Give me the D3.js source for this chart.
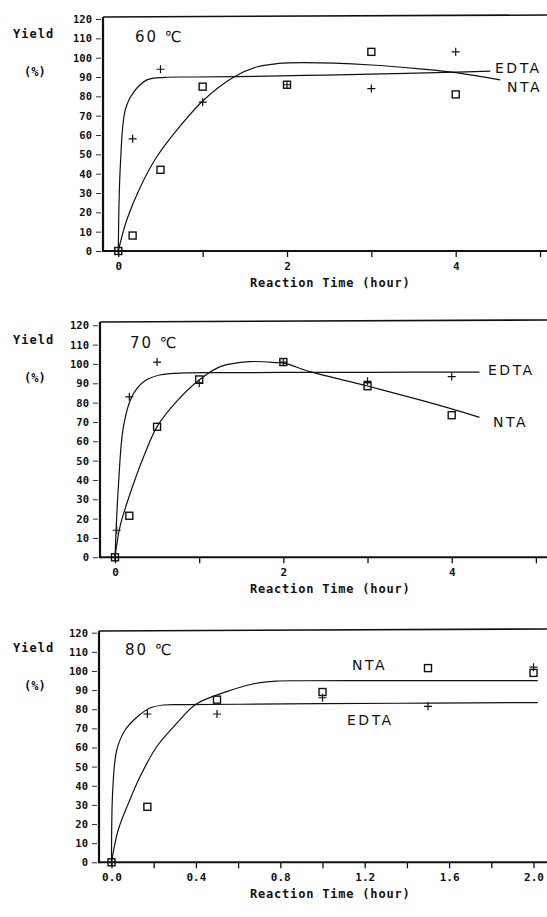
<!DOCTYPE html>
<html>
<head>
<meta charset="utf-8">
<script src="https://cdn.jsdelivr.net/npm/d3@7"></script>
<style>
  body { margin: 0; background: #fff; }
  svg { display: block; }
  .mono { font-family: "DejaVu Sans Mono", monospace; font-weight: bold; fill: #111; }
  .plot { font-family: "DejaVu Sans", sans-serif; fill: #111; }
</style>
</head>
<body>
<svg id="canvas" width="547" height="917"></svg>
<script>
// y axis ticks (same for every panel)
var yTickValues = [0, 10, 20, 30, 40, 50, 60, 70, 80, 90, 100, 110, 120];

// 60 C
var hours60 = [0, 0.17, 0.5, 1, 2, 3, 4];
var edta60 = [0, 58, 94, 77, 86, 84, 103];
var nta60 = [0, 8, 42, 85, 86, 103, 81];
var edta60Curve = [[0,0],[0.024,44],[0.083,73],[0.18,82],[0.34,88.5],[0.55,89.8],[0.9,90],[1.4,90.2],[2.2,90.8],[3,91.5],[4,92.5],[4.41,93]];
var nta60Curve = [[0,0],[0.1,16],[0.26,33],[0.46,49],[0.74,65],[1.01,78],[1.37,90],[1.65,95.3],[1.9,97],[2.2,97.4],[3,96.2],[3.58,94.2],[4,92.3],[4.53,88.5]];

// 70 C
var hours70Edta = [0, 0.02, 0.17, 0.5, 1, 2, 3, 4];
var edta70 = [0, 14, 83, 101, 90, 101, 91, 93.5];
var hours70Nta = [0, 0.17, 0.5, 1, 2, 3, 4];
var nta70 = [0, 21.5, 67.5, 92, 101, 88.5, 73.5];
var edta70Curve = [[0,0],[0.04,36.5],[0.1,67.5],[0.2,83],[0.34,90.8],[0.53,94.3],[0.85,95.4],[1.3,95.5],[2,95.6],[3,95.7],[4.33,95.8]];
var nta70Curve = [[0,0],[0.06,16],[0.18,33],[0.34,52],[0.5,67.6],[0.73,80.5],[1,91.7],[1.25,98.6],[1.6,101.2],[1.92,100.7],[2.02,100.3],[2.32,96],[3,88.6],[3.62,81.4],[3.98,77],[4.33,72.4]];

// 80 C
var hours80 = [0, 0.17, 0.5, 1, 1.5, 2];
var edta80 = [0, 77.5, 77.5, 86, 81.5, 102];
var nta80 = [0, 29, 85, 89, 101.5, 99];
var edta80Curve = [[0,0],[0.006,38],[0.025,58.7],[0.064,69],[0.12,75.8],[0.18,80.5],[0.245,82.2],[0.35,82.4],[0.6,82.6],[1,82.9],[1.5,83.2],[2.02,83.5]];
var nta80Curve = [[0,0],[0.032,17],[0.08,30.8],[0.135,44.7],[0.214,60.4],[0.31,72.7],[0.4,82.6],[0.546,89.2],[0.67,93.2],[0.78,94.7],[0.9,94.9],[1.2,95],[1.6,95],[2.02,95]];

// x ticks
var xTicksHour = [0, 1, 2, 3, 4, 5];
var xLabelsHour = ["0", "", "2", "", "4", ""];
var xTicksShort = [0, 0.2, 0.4, 0.6, 0.8, 1.0, 1.2, 1.4, 1.6, 1.8, 2.0];
var xLabelsShort = ["0.0", "", "0.4", "", "0.8", "", "1.2", "", "1.6", "", "2.0"];

var panels = [
	{ temp: "60 \u2103", axisX: 103, x0: 118.3, x1: 455.7, t1: 4, y0: 251, y120: 19, top: 17,
	  xTicks: xTicksHour, xLabels: xLabelsHour,
	  edtaT: hours60, edta: edta60, ntaT: hours60, nta: nta60, edtaCurve: edta60Curve, ntaCurve: nta60Curve,
	  tempPos: [135, 42], edtaPos: [495, 73], ntaPos: [507, 92] },
	{ temp: "70 \u2103", axisX: 100, x0: 115, x1: 451.7, t1: 4, y0: 557.3, y120: 325.3, top: 322,
	  xTicks: xTicksHour, xLabels: xLabelsHour,
	  edtaT: hours70Edta, edta: edta70, ntaT: hours70Nta, nta: nta70, edtaCurve: edta70Curve, ntaCurve: nta70Curve,
	  tempPos: [130, 347.5], edtaPos: [488, 375], ntaPos: [493, 426.5] },
	{ temp: "80 \u2103", axisX: 99, x0: 111.5, x1: 533.5, t1: 2, y0: 862.3, y120: 632.7, top: 631,
	  xTicks: xTicksShort, xLabels: xLabelsShort,
	  edtaT: hours80, edta: edta80, ntaT: hours80, nta: nta80, edtaCurve: edta80Curve, ntaCurve: nta80Curve,
	  tempPos: [125, 655], edtaPos: [347, 725], ntaPos: [352, 670] }
];

var svg = d3.select("#canvas");

panels.forEach(function(p) {
	var x = d3.scaleLinear().domain([0, p.t1]).range([p.x0, p.x1]);
	var y = d3.scaleLinear().domain([0, 120]).range([p.y0, p.y120]);
	var g = svg.append("g");

	// frame: left axis, bottom axis, top border
	g.append("line").attr("x1", p.axisX).attr("x2", p.axisX).attr("y1", p.top).attr("y2", p.y0 + 1)
		.attr("stroke", "#111").attr("stroke-width", 2.2);
	g.append("line").attr("x1", p.axisX).attr("x2", 547).attr("y1", p.y0).attr("y2", p.y0)
		.attr("stroke", "#111").attr("stroke-width", 2);
	g.append("line").attr("x1", p.axisX).attr("x2", 547).attr("y1", p.top).attr("y2", p.top - 2)
		.attr("stroke", "#111").attr("stroke-width", 1.6);

	// y axis
	var yAxis = d3.axisLeft(y).tickValues(yTickValues).tickSize(5).tickPadding(4);
	var ya = g.append("g").attr("transform", "translate(" + (p.axisX - 2) + ",0)").call(yAxis);
	ya.select(".domain").remove();
	ya.selectAll("line").attr("stroke", "#333");
	ya.selectAll("text").attr("class", "mono").style("font-size", "10.5px");

	// x axis
	var xAxis = d3.axisBottom(x).tickValues(p.xTicks).tickSize(6).tickPadding(5)
		.tickFormat(function(d, i) { return p.xLabels[i]; });
	var xa = g.append("g").attr("transform", "translate(0," + p.y0 + ")").call(xAxis);
	xa.select(".domain").remove();
	xa.selectAll("line").attr("stroke", "#111").attr("stroke-width", 1.3);
	xa.selectAll("text").attr("class", "mono").style("font-size", "11px");

	// labels
	g.append("text").attr("class", "mono").attr("x", 13).attr("y", p.y120 + 19)
		.style("font-size", "12px").style("letter-spacing", "1px").text("Yield");
	g.append("text").attr("class", "mono").attr("x", 24).attr("y", p.y120 + 57)
		.style("font-size", "12px").text("(%)");
	g.append("text").attr("class", "mono").attr("x", 250).attr("y", p.y0 + 36)
		.style("font-size", "12px").style("letter-spacing", "0.8px").text("Reaction Time (hour)");
	g.append("text").attr("class", "plot").attr("x", p.tempPos[0]).attr("y", p.tempPos[1])
		.style("font-size", "15px").style("letter-spacing", "2px").text(p.temp);
	g.append("text").attr("class", "plot").attr("x", p.edtaPos[0]).attr("y", p.edtaPos[1])
		.style("font-size", "14px").style("letter-spacing", "2.5px").text("EDTA");
	g.append("text").attr("class", "plot").attr("x", p.ntaPos[0]).attr("y", p.ntaPos[1])
		.style("font-size", "14px").style("letter-spacing", "2.5px").text("NTA");

	// fitted curves
	var line = d3.line()
		.x(function(d) { return x(d[0]); })
		.y(function(d) { return y(d[1]); })
		.curve(d3.curveCatmullRom.alpha(0.5));
	[p.edtaCurve, p.ntaCurve].forEach(function(c) {
		g.append("path").attr("d", line(c))
			.attr("fill", "none").attr("stroke", "#111").attr("stroke-width", 1.2);
	});

	// NTA squares
	g.selectAll("rect.nta")
		.data(p.nta.map(function(v, i) { return [p.ntaT[i], v]; }))
		.enter().append("rect")
		.attr("class", "nta")
		.attr("x", function(d) { return x(d[0]) - 3.5; })
		.attr("y", function(d) { return y(d[1]) - 3.5; })
		.attr("width", 7).attr("height", 7)
		.attr("fill", "none").attr("stroke", "#111").attr("stroke-width", 1.4);

	// EDTA pluses
	g.selectAll("path.edta")
		.data(p.edta.map(function(v, i) { return [p.edtaT[i], v]; }))
		.enter().append("path")
		.attr("class", "edta")
		.attr("d", function(d) {
			var cx = x(d[0]), cy = y(d[1]);
			return "M" + (cx - 4) + "," + cy + "H" + (cx + 4) + "M" + cx + "," + (cy - 4) + "V" + (cy + 4);
		})
		.attr("stroke", "#111").attr("stroke-width", 1.2);
});
</script>
</body>
</html>
